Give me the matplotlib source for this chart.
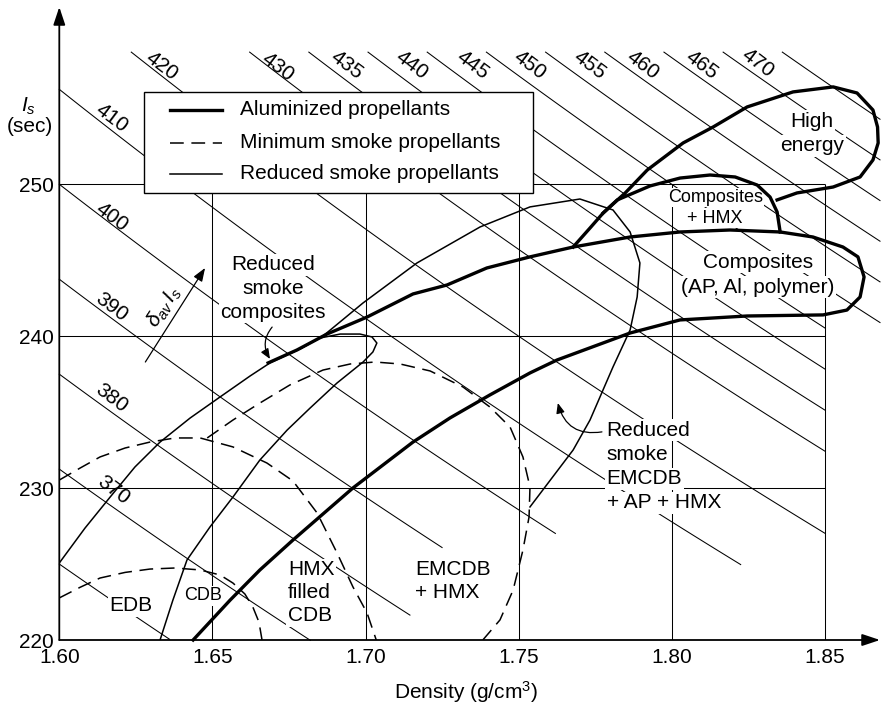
import numpy as np
import matplotlib
matplotlib.use("Agg")
import matplotlib.pyplot as plt

plt.rcParams["font.family"] = ["Liberation Sans", "DejaVu Sans"]
plt.rcParams["mathtext.fontset"] = "custom"
plt.rcParams["mathtext.rm"] = "Liberation Sans"
plt.rcParams["mathtext.it"] = "Liberation Sans:italic"

# axis ticks
density_ticks = [1.60, 1.65, 1.70, 1.75, 1.80, 1.85]
isp_ticks = [220, 230, 240, 250]

# lines of constant density * specific impulse
rho_isp_levels = [360, 370, 380, 390, 400, 410, 420, 430, 435, 440, 445, 450, 455, 460, 465, 470, 475]
level_end_density = [1.636, 1.682, 1.7145, 1.725, 1.762, 1.8225, 1.85, 1.85, 1.85, 1.85, 1.85,
                     1.868, 1.868, 1.868, 1.868, 1.868, 1.868]
level_labels = ["370", "380", "390", "400", "410", "420", "430", "435", "440", "445",
                "450", "455", "460", "465", "470"]
level_label_x = [1.6176, 1.6172, 1.6172, 1.6172, 1.6172, 1.6336, 1.6712, 1.6940, 1.7152,
                 1.7351, 1.7537, 1.7733, 1.7906, 1.8099, 1.8282]
level_label_y = [229.88, 235.93, 241.92, 247.85, 254.36, 257.79, 257.72, 257.85, 257.85,
                 257.85, 257.85, 257.85, 257.85, 257.85, 257.99]

# aluminized propellants (thick)
composites_rho = [1.6437, 1.6558, 1.6655, 1.6763, 1.6959, 1.7155, 1.7276, 1.7406, 1.7537, 1.7625,
                  1.7864, 1.8027, 1.8246, 1.8494, 1.8572, 1.8615, 1.8628, 1.8608, 1.8559, 1.8461,
                  1.8354, 1.8190, 1.8027, 1.7864, 1.7678, 1.7537, 1.7396, 1.7266, 1.7155, 1.7005,
                  1.6874, 1.6776, 1.6682]
composites_isp = [220.0, 222.63, 224.61, 226.58, 230.01, 233.03, 234.62, 236.13, 237.58, 238.43,
                  240.21, 241.07, 241.33, 241.40, 241.72, 242.58, 243.90, 245.22, 245.87, 246.53,
                  246.86, 246.99, 246.86, 246.53, 245.87, 245.22, 244.49, 243.37, 242.78, 241.26,
                  240.14, 239.09, 238.24]
high_energy_rho = [1.7678, 1.7733, 1.7776, 1.7848, 1.7920, 1.8037, 1.8135, 1.8246, 1.8396, 1.8527,
                   1.8605, 1.8657, 1.8672, 1.8674, 1.8657, 1.8615, 1.8527, 1.8409, 1.8344]
high_energy_isp = [245.87, 247.12, 248.11, 249.43, 250.94, 252.72, 253.77, 255.09, 256.08, 256.41,
                   256.01, 254.89, 253.77, 252.72, 251.60, 250.48, 249.82, 249.43, 248.97]
comp_hmx_rho = [1.7776, 1.7822, 1.7929, 1.8027, 1.8125, 1.8207, 1.8279, 1.8321, 1.8344, 1.8354]
comp_hmx_isp = [248.11, 248.97, 249.89, 250.41, 250.61, 250.48, 249.95, 249.16, 248.18, 246.86]

# minimum smoke propellants (dashed)
edb_rho = [1.6000, 1.6068, 1.6133, 1.6215, 1.6296, 1.6378, 1.6460, 1.6525, 1.6567, 1.6606,
           1.6632, 1.6652, 1.6662]
edb_isp = [222.77, 223.47, 224.08, 224.45, 224.67, 224.74, 224.61, 224.28, 223.75, 223.03,
           222.17, 221.18, 220.0]
cdb_rho = [1.6000, 1.6068, 1.6133, 1.6215, 1.6296, 1.6378, 1.6460, 1.6567, 1.6678, 1.6763,
           1.6842, 1.6907, 1.6959, 1.7005, 1.7035]
cdb_isp = [230.53, 231.32, 232.05, 232.64, 233.03, 233.30, 233.30, 232.71, 231.65, 230.47,
           228.36, 225.73, 223.49, 221.78, 220.0]
hmx_rho = [1.6483, 1.6567, 1.6655, 1.6753, 1.6861, 1.6950, 1.7031, 1.7113, 1.7211, 1.7318,
           1.7406, 1.7472, 1.7514, 1.7537, 1.7534, 1.7514, 1.7482, 1.7439, 1.7383]
hmx_isp = [233.30, 234.48, 235.60, 236.79, 237.77, 238.17, 238.30, 238.17, 237.71, 236.66,
           235.34, 234.02, 232.05, 230.07, 228.10, 225.92, 223.29, 221.32, 220.0]

# reduced smoke propellants (thin)
reduced_rho = [1.6000, 1.6084, 1.6166, 1.6247, 1.6329, 1.6427, 1.6525, 1.6623, 1.6688, 1.6786,
               1.6861, 1.6992, 1.7168, 1.7374, 1.7537, 1.7700, 1.7808, 1.7864, 1.7896, 1.7887,
               1.7864, 1.7808, 1.7733, 1.7678, 1.7537]
reduced_isp = [225.07, 227.37, 229.41, 231.39, 233.03, 234.61, 236.00, 237.38, 238.24, 239.16,
               240.01, 242.19, 244.82, 247.19, 248.51, 249.03, 248.31, 246.86, 244.82, 242.58,
               240.41, 237.97, 234.48, 232.51, 228.76]
reduced_comp_rho = [1.6329, 1.6371, 1.6417, 1.6492, 1.6567, 1.6655, 1.6744, 1.6819, 1.6907, 1.6992,
                    1.7024, 1.7037, 1.7021, 1.6982, 1.6917, 1.6851, 1.6786]
reduced_comp_isp = [220.0, 222.63, 225.27, 227.44, 229.41, 231.85, 233.82, 235.27, 236.92, 238.30,
                    238.96, 239.55, 239.95, 240.14, 240.14, 239.88, 239.16]

legend_labels = ["Aluminized propellants", "Minimum smoke propellants", "Reduced smoke propellants"]

FS = 15
FS_SMALL = 13
ISP_TOP = 258.7
THICK, THIN, DIAG = 2.4, 1.1, 0.75
DASH = (9, 5)

fig = plt.figure(figsize=(8.81, 7.06), dpi=100)
ax = fig.add_axes([59.3 / 881, 66 / 706, 820.7 / 881, 633 / 706])
ax.set_xlim(1.60, 1.868)
ax.set_ylim(220, 261.67)
for side in ax.spines:
    ax.spines[side].set_visible(False)
ax.set_xticks(density_ticks)
ax.set_xticklabels([f"{v:.2f}" for v in density_ticks], fontsize=FS)
ax.set_yticks(isp_ticks)
ax.set_yticklabels([str(v) for v in isp_ticks], fontsize=FS)
ax.tick_params(axis="x", length=0, pad=6)
ax.tick_params(axis="y", length=0, pad=4)

arrow = dict(arrowstyle="-|>,head_length=0.9,head_width=0.3", lw=1.3, color="black",
             mutation_scale=12, shrinkA=0, shrinkB=0)
ax.annotate("", xy=(0, 1), xytext=(0, 0), xycoords="axes fraction", arrowprops=arrow, zorder=6)
ax.annotate("", xy=(1, 0), xytext=(0, 0), xycoords="axes fraction", arrowprops=arrow, zorder=6)

# grid box
ax.vlines(density_ticks[1:], 220, 250, color="black", lw=0.75, zorder=1)
ax.hlines(isp_ticks[1:], 1.60, 1.85, color="black", lw=0.75, zorder=1)

# constant density-impulse lines
for level, end in zip(rho_isp_levels, level_end_density):
    start = max(1.60, level / ISP_TOP)
    rho = np.linspace(start, end, 60)
    ax.plot(rho, level / rho, color="black", lw=DIAG, zorder=1, clip_on=False)
for txt, x, y in zip(level_labels, level_label_x, level_label_y):
    ax.text(x, y, txt, fontsize=FS, rotation=-37, rotation_mode="anchor",
            ha="center", va="center", zorder=3)

# propellant regions
for rho, isp in [(composites_rho, composites_isp), (high_energy_rho, high_energy_isp),
                 (comp_hmx_rho, comp_hmx_isp)]:
    ax.plot(rho, isp, color="black", lw=THICK, zorder=4, clip_on=False, solid_joinstyle="round")
for rho, isp in [(edb_rho, edb_isp), (cdb_rho, cdb_isp), (hmx_rho, hmx_isp)]:
    ax.plot(rho, isp, color="black", lw=THIN, dashes=DASH, zorder=4)
for rho, isp in [(reduced_rho, reduced_isp), (reduced_comp_rho, reduced_comp_isp)]:
    ax.plot(rho, isp, color="black", lw=THIN, zorder=4, solid_joinstyle="round")


def stacked(x, y, lines, size=FS, ha="center", step=17.0):
    for i, s in enumerate(lines):
        ax.annotate(s, (x, y), xytext=(0, -i * step), textcoords="offset points",
                    ha=ha, va="center", fontsize=size, zorder=3,
                    bbox=dict(boxstyle="square,pad=0.08", fc="white", ec="none"))


stacked(1.6699, 244.69, ["Reduced", "smoke", "composites"])
stacked(1.7787, 233.82, ["Reduced", "smoke", "EMCDB", "+ AP + HMX"], ha="left", step=17.5)
stacked(1.6747, 224.61, ["HMX", "filled", "CDB"], ha="left", step=16.5)
stacked(1.7162, 224.61, ["EMCDB", "+ HMX"], ha="left", step=16.5)
stacked(1.6235, 222.24, ["EDB"])
stacked(1.6469, 222.90, ["CDB"], size=FS_SMALL)
stacked(1.8142, 249.13, ["Composites", "+ HMX"], size=FS_SMALL, step=15)
stacked(1.8282, 244.88, ["Composites", "(AP, Al, polymer)"], step=18)
stacked(1.8458, 254.13, ["High", "energy"], step=17.5)

ax.annotate("", xy=(1.6688, 238.5), xytext=(1.6695, 240.6),
            arrowprops=dict(arrowstyle="-|>,head_length=0.6,head_width=0.25", lw=0.9,
                            color="black", connectionstyle="arc3,rad=0.35",
                            shrinkA=0, shrinkB=0), zorder=5)
ax.annotate("", xy=(1.7628, 235.6), xytext=(1.7772, 233.7),
            arrowprops=dict(arrowstyle="-|>,head_length=0.6,head_width=0.25", lw=0.9,
                            color="black", connectionstyle="arc3,rad=-0.45",
                            shrinkA=0, shrinkB=0), zorder=5)
ax.annotate("", xy=(1.6476, 244.49), xytext=(1.6281, 238.30),
            arrowprops=dict(arrowstyle="-|>,head_length=0.8,head_width=0.3", lw=0.9,
                            color="black", shrinkA=0, shrinkB=0), zorder=5)
ax.text(1.6343, 241.95, r"$\delta_{av}\, I_s$", fontsize=FS, rotation=57,
        rotation_mode="anchor", ha="center", va="center", zorder=3)

# legend box
ax.add_patch(plt.Rectangle((0.1032, 0.7062), 0.4740, 0.1595, transform=ax.transAxes,
                           fc="white", ec="black", lw=1.0, zorder=5))
styles = [dict(lw=THICK), dict(lw=THIN, dashes=DASH), dict(lw=THIN)]
for label, style, fy in zip(legend_labels, styles, [0.8373, 0.7852, 0.7362]):
    ax.plot([0.1349, 0.1982], [fy, fy], transform=ax.transAxes, color="black", zorder=6, **style)
    ax.text(0.2202, fy, label, transform=ax.transAxes, fontsize=FS, va="center", zorder=6)

fig.text(28 / 881, 1 - 106 / 706, r"$I_s$", fontsize=FS, ha="center", va="center")
fig.text(30 / 881, 1 - 126 / 706, "(sec)", fontsize=FS, ha="center", va="center")
fig.text(466 / 881, 1 - 692 / 706, "Density (g/cm$^3$)", fontsize=FS, ha="center", va="center")

fig.savefig("out.png", dpi=100)
